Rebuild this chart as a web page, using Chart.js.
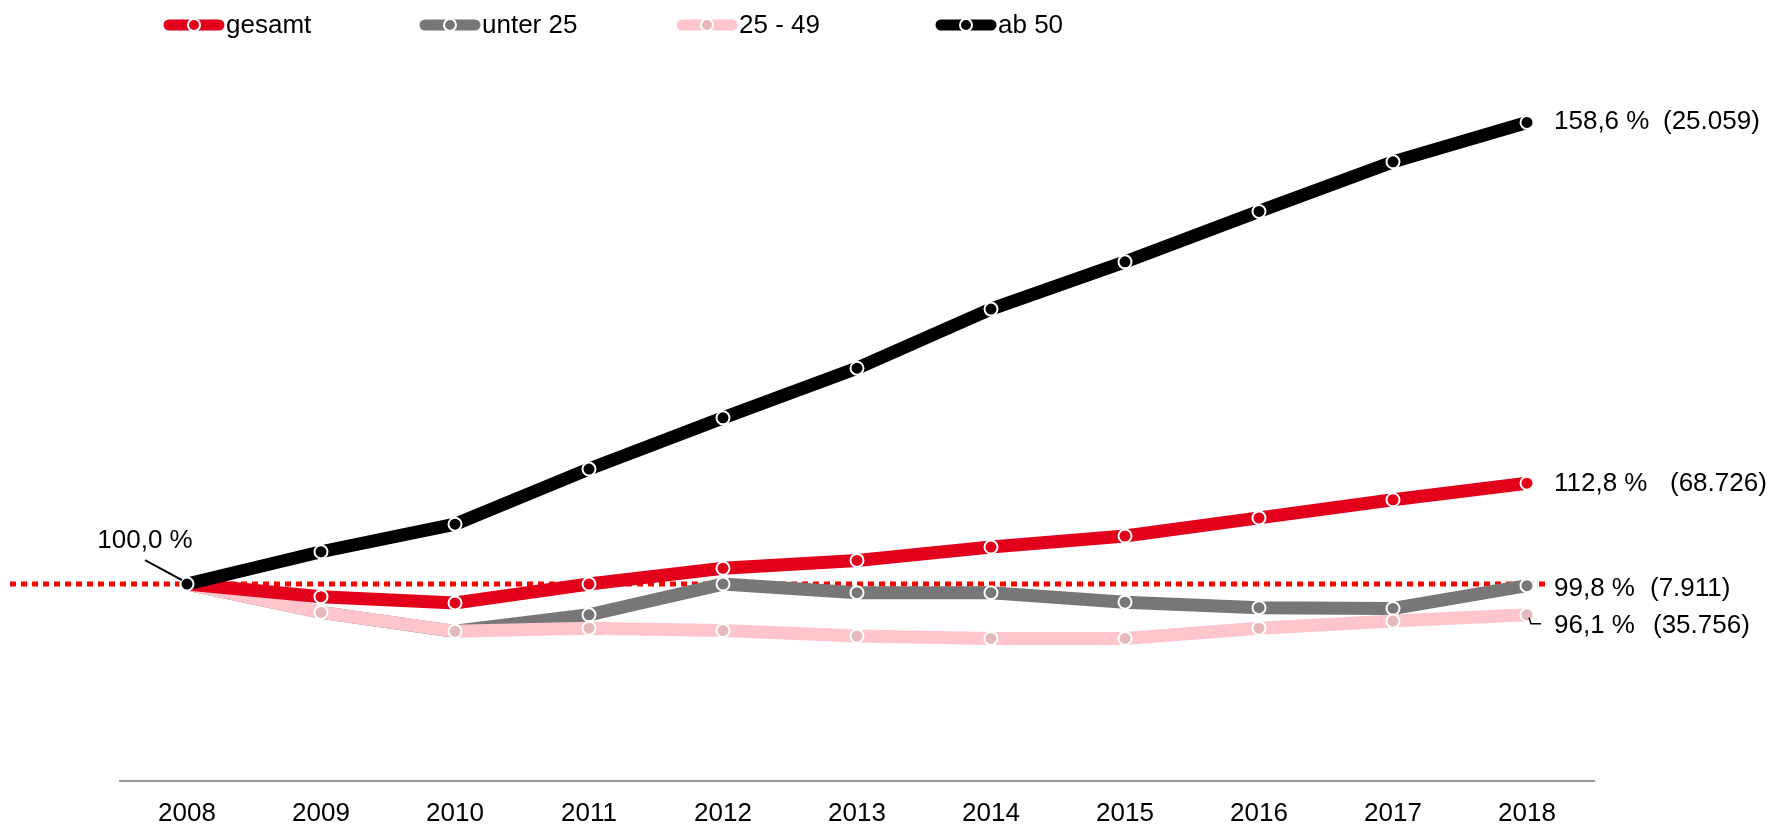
<!DOCTYPE html>
<html>
<head>
<meta charset="utf-8">
<script src="https://cdn.jsdelivr.net/npm/chart.js@4.4.0/dist/chart.umd.min.js"></script>
<style>
  html, body { margin: 0; padding: 0; background: #fff; }
  #wrap { width: 1769px; height: 826px; }
</style>
</head>
<body>
<div id="wrap"><canvas id="chart"></canvas></div>
<script>
// Jahre
const years = ['2008', '2009', '2010', '2011', '2012', '2013', '2014', '2015', '2016', '2017', '2018'];

// Index (2008 = 100 %)
const gesamt  = [100, 98.4, 97.6, 100.0, 102.0, 103.0, 104.7, 106.1, 108.4, 110.7, 112.8];
const unter25 = [100, 96.4, 94.0, 96.1, 100.0, 98.9, 98.9, 97.7, 97.0, 96.9, 99.8];
const mitte   = [100, 96.4, 94.0, 94.4, 94.1, 93.4, 93.1, 93.1, 94.4, 95.3, 96.1];
const ab50    = [100, 104.1, 107.6, 114.6, 121.1, 127.4, 134.9, 140.9, 147.3, 153.6, 158.6];

// absolute Zahlen 2018
const gesamtAbs  = '(68.726)';
const unter25Abs = '(7.911)';
const mitteAbs   = '(35.756)';
const ab50Abs    = '(25.059)';

const FONT = '26px "Liberation Sans", Arial, sans-serif';

function pct(v) {
    return v.toFixed(1).replace('.', ',') + ' %';
}

// gepunktete Linie bei 100 %
const refLine = {
    id: 'refLine',
    beforeDatasetsDraw(chart) {
        const ctx = chart.ctx;
        const y = chart.scales.y.getPixelForValue(100);
        ctx.save();
        ctx.strokeStyle = '#ff0000';
        ctx.lineWidth = 5;
        ctx.setLineDash([6, 5]);
        ctx.beginPath();
        ctx.moveTo(10, y);
        ctx.lineTo(chart.scales.x.getPixelForValue(10) + 22, y);
        ctx.stroke();
        ctx.restore();
    }
};

// Legende oben (Linie mit Punkt)
const topLegend = {
    id: 'topLegend',
    afterDraw(chart) {
        const ctx = chart.ctx;
        const xs = [164, 420, 677, 936];
        ctx.save();
        chart.data.datasets.forEach((ds, i) => {
            const x0 = xs[i], y = 25;
            ctx.strokeStyle = ds.borderColor;
            ctx.lineWidth = 11;
            ctx.lineCap = 'round';
            ctx.beginPath();
            ctx.moveTo(x0 + 5, y);
            ctx.lineTo(x0 + 55, y);
            ctx.stroke();
            ctx.beginPath();
            ctx.arc(x0 + 30, y, 6, 0, Math.PI * 2);
            ctx.fillStyle = ds.pointBackgroundColor;
            ctx.fill();
            ctx.lineWidth = 2;
            ctx.strokeStyle = '#fff';
            ctx.stroke();
            ctx.fillStyle = '#000';
            ctx.font = FONT;
            ctx.textBaseline = 'middle';
            ctx.textAlign = 'left';
            ctx.fillText(ds.label, x0 + 62, y + 1);
        });
        ctx.restore();
    }
};

// Beschriftungen am Ende der Linien
const endLabels = {
    id: 'endLabels',
    afterDatasetsDraw(chart) {
        const ctx = chart.ctx;
        const xs = chart.scales.x, ys = chart.scales.y;
        const last = years.length - 1;
        const px = xs.getPixelForValue(last);
        const items = [
            { v: ab50[last],    abs: ab50Abs,    dy: -1, dx2: 136 },
            { v: gesamt[last],  abs: gesamtAbs,  dy: 1,  dx2: 143 },
            { v: unter25[last], abs: unter25Abs, dy: 3,  dx2: 123 },
            { v: mitte[last],   abs: mitteAbs,   dy: 11, dx2: 126 }
        ];
        ctx.save();
        ctx.font = FONT;
        ctx.fillStyle = '#000';
        ctx.textBaseline = 'middle';
        ctx.textAlign = 'left';
        items.forEach(it => {
            const y = ys.getPixelForValue(it.v) + it.dy;
            ctx.fillText(pct(it.v), px + 27, y);
            ctx.fillText(it.abs, px + it.dx2, y);
        });

        // kleiner Winkel zur 25-49 Beschriftung
        const py = ys.getPixelForValue(mitte[last]);
        ctx.strokeStyle = '#000';
        ctx.lineWidth = 1.5;
        ctx.beginPath();
        ctx.moveTo(px + 2, py + 3);
        ctx.lineTo(px + 4, py + 9);
        ctx.lineTo(px + 14, py + 9);
        ctx.stroke();

        // Startwert 2008
        const sx = xs.getPixelForValue(0), sy = ys.getPixelForValue(ab50[0]);
        ctx.textAlign = 'center';
        ctx.fillText(pct(ab50[0]), sx - 42, sy - 43);
        ctx.lineWidth = 2;
        ctx.beginPath();
        ctx.moveTo(sx - 42, sy - 24);
        ctx.lineTo(sx - 5, sy - 4);
        ctx.stroke();
        ctx.restore();
    }
};

function series(label, data, color, pointFill, order) {
    return {
        label: label,
        data: data,
        borderColor: color,
        backgroundColor: color,
        pointBackgroundColor: pointFill,
        pointBorderColor: '#ffffff',
        pointBorderWidth: 2,
        pointRadius: 6.5,
        borderWidth: 13,
        tension: 0,
        fill: false,
        order: order
    };
}

new Chart(document.getElementById('chart').getContext('2d'), {
    type: 'line',
    data: {
        labels: years,
        datasets: [
            series('gesamt', gesamt, '#e2001a', '#e2001a', 1),
            series('unter 25', unter25, '#777777', '#777777', 3),
            series('25 - 49', mitte, '#ffc5cc', '#e5b9bc', 2),
            series('ab 50', ab50, '#000000', '#000000', 0)
        ]
    },
    options: {
        responsive: true,
        maintainAspectRatio: false,
        animation: false,
        layout: { padding: { left: 120, right: 175, top: 72, bottom: 0 } },
        plugins: {
            legend: { display: false },
            tooltip: { enabled: false }
        },
        scales: {
            x: {
                offset: true,
                grid: { display: false, drawTicks: false },
                border: { display: true, color: '#9a9a9a', width: 2 },
                ticks: {
                    color: '#000',
                    padding: 17,
                    font: { family: '"Liberation Sans", Arial, sans-serif', size: 26 }
                },
                afterFit(scale) { scale.height = 45; }
            },
            y: {
                display: false,
                min: 75,
                max: 165
            }
        }
    },
    plugins: [refLine, topLegend, endLabels]
});
</script>
</body>
</html>
